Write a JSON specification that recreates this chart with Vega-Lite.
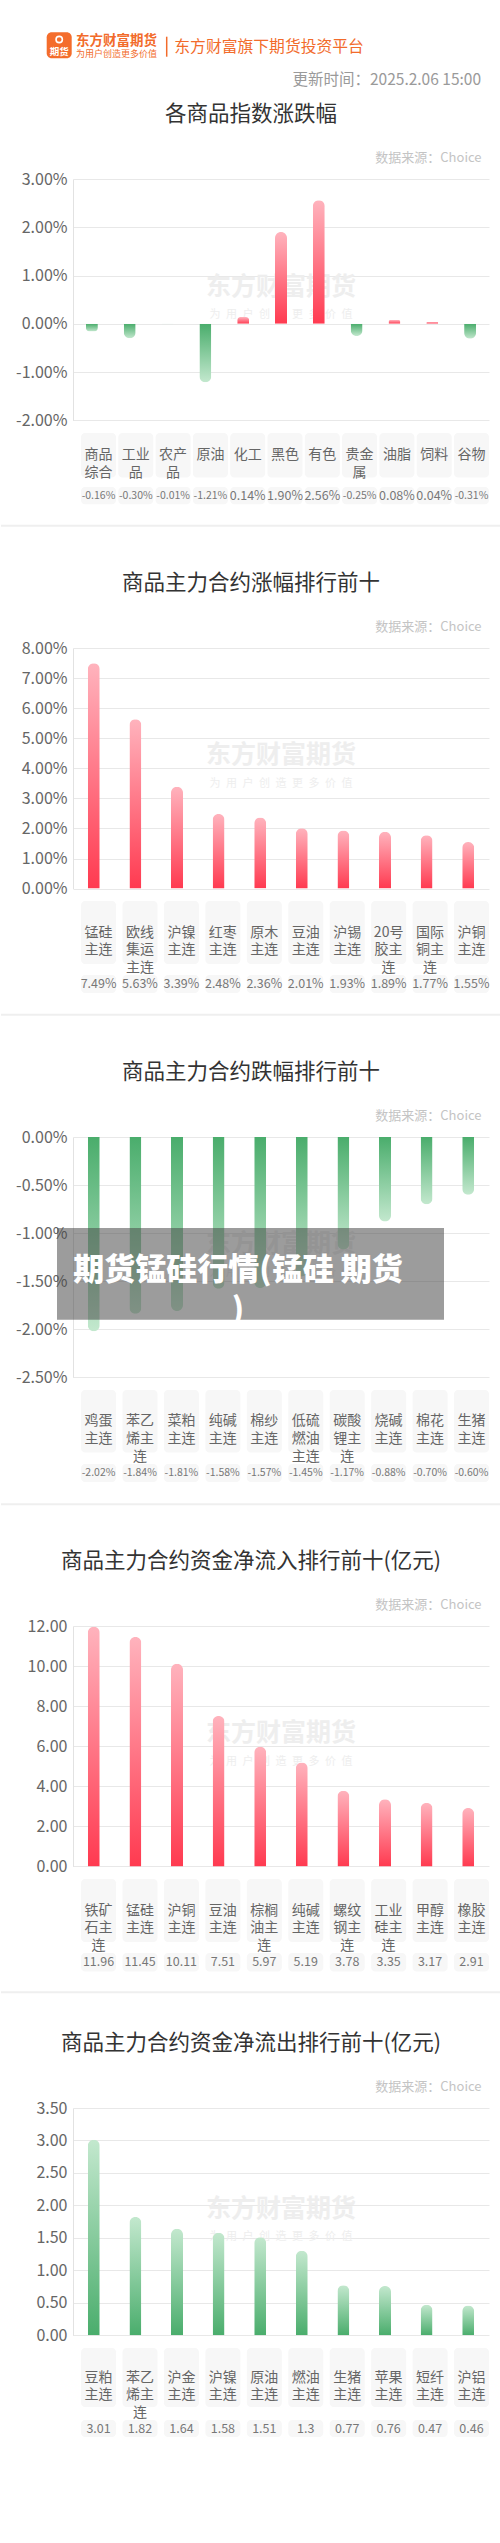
{
  "$schema": "https://vega.github.io/schema/vega-lite/v6.json",
  "background": "white",
  "padding": 0,
  "spacing": 0,
  "config": {
    "font": "Noto Sans CJK SC",
    "view": {"stroke": null},
    "locale": {"number": {"decimal": ".", "thousands": ",", "grouping": [3], "currency": ["", ""], "minus": "-"}},
    "axisY": {"labelFontSize": 16, "labelColor": "#666666", "labelPadding": 6, "ticks": false, "domainColor": "#e2e2e2", "gridColor": "#e8e8e8", "minExtent": 72, "titleAngle": 0, "titleX": 408, "titleY": -22, "titleAlign": "right", "titleBaseline": "middle", "titleColor": "#c4c4c4", "titleFontSize": 13, "titleFontWeight": "normal"},
    "axisX": {"labels": false, "ticks": false, "domain": false, "grid": false}
  },
  "datasets": {
    "d1": [
      {"name": "商品综合", "lab": "商品\n综合", "v": -0.0016},
      {"name": "工业品", "lab": "工业\n品", "v": -0.003},
      {"name": "农产品", "lab": "农产\n品", "v": -0.0001},
      {"name": "原油", "lab": "原油", "v": -0.0121},
      {"name": "化工", "lab": "化工", "v": 0.0014},
      {"name": "黑色", "lab": "黑色", "v": 0.019},
      {"name": "有色", "lab": "有色", "v": 0.0256},
      {"name": "贵金属", "lab": "贵金\n属", "v": -0.0025},
      {"name": "油脂", "lab": "油脂", "v": 0.0008},
      {"name": "饲料", "lab": "饲料", "v": 0.0004},
      {"name": "谷物", "lab": "谷物", "v": -0.0031}
    ],
    "d2": [
      {"name": "锰硅主连", "lab": "锰硅\n主连", "v": 0.0749},
      {"name": "欧线集运主连", "lab": "欧线\n集运\n主连", "v": 0.0563},
      {"name": "沪镍主连", "lab": "沪镍\n主连", "v": 0.0339},
      {"name": "红枣主连", "lab": "红枣\n主连", "v": 0.0248},
      {"name": "原木主连", "lab": "原木\n主连", "v": 0.0236},
      {"name": "豆油主连", "lab": "豆油\n主连", "v": 0.0201},
      {"name": "沪锡主连", "lab": "沪锡\n主连", "v": 0.0193},
      {"name": "20号胶主连", "lab": "20号\n胶主\n连", "v": 0.0189},
      {"name": "国际铜主连", "lab": "国际\n铜主\n连", "v": 0.0177},
      {"name": "沪铜主连", "lab": "沪铜\n主连", "v": 0.0155}
    ],
    "d3": [
      {"name": "鸡蛋主连", "lab": "鸡蛋\n主连", "v": -0.0202},
      {"name": "苯乙烯主连", "lab": "苯乙\n烯主\n连", "v": -0.0184},
      {"name": "菜粕主连", "lab": "菜粕\n主连", "v": -0.0181},
      {"name": "纯碱主连", "lab": "纯碱\n主连", "v": -0.0158},
      {"name": "棉纱主连", "lab": "棉纱\n主连", "v": -0.0157},
      {"name": "低硫燃油主连", "lab": "低硫\n燃油\n主连", "v": -0.0145},
      {"name": "碳酸锂主连", "lab": "碳酸\n锂主\n连", "v": -0.0117},
      {"name": "烧碱主连", "lab": "烧碱\n主连", "v": -0.0088},
      {"name": "棉花主连", "lab": "棉花\n主连", "v": -0.007},
      {"name": "生猪主连", "lab": "生猪\n主连", "v": -0.006}
    ],
    "d4": [
      {"name": "铁矿石主连", "lab": "铁矿\n石主\n连", "v": 11.96},
      {"name": "锰硅主连", "lab": "锰硅\n主连", "v": 11.45},
      {"name": "沪铜主连", "lab": "沪铜\n主连", "v": 10.11},
      {"name": "豆油主连", "lab": "豆油\n主连", "v": 7.51},
      {"name": "棕榈油主连", "lab": "棕榈\n油主\n连", "v": 5.97},
      {"name": "纯碱主连", "lab": "纯碱\n主连", "v": 5.19},
      {"name": "螺纹钢主连", "lab": "螺纹\n钢主\n连", "v": 3.78},
      {"name": "工业硅主连", "lab": "工业\n硅主\n连", "v": 3.35},
      {"name": "甲醇主连", "lab": "甲醇\n主连", "v": 3.17},
      {"name": "橡胶主连", "lab": "橡胶\n主连", "v": 2.91}
    ],
    "d5": [
      {"name": "豆粕主连", "lab": "豆粕\n主连", "v": 3.01},
      {"name": "苯乙烯主连", "lab": "苯乙\n烯主\n连", "v": 1.82},
      {"name": "沪金主连", "lab": "沪金\n主连", "v": 1.64},
      {"name": "沪镍主连", "lab": "沪镍\n主连", "v": 1.58},
      {"name": "原油主连", "lab": "原油\n主连", "v": 1.51},
      {"name": "燃油主连", "lab": "燃油\n主连", "v": 1.3},
      {"name": "生猪主连", "lab": "生猪\n主连", "v": 0.77},
      {"name": "苹果主连", "lab": "苹果\n主连", "v": 0.76},
      {"name": "短纤主连", "lab": "短纤\n主连", "v": 0.47},
      {"name": "沪铝主连", "lab": "沪铝\n主连", "v": 0.46}
    ]
  },
  "vconcat": [
    {
      "width": 416, "height": 103.8,
      "data": {"values": [{}]},
      "layer": [
        {"mark": {"type": "rect", "color": "#f46d2c", "cornerRadius": 5}, "encoding": {"x": {"value": -26.3}, "x2": {"value": -1.3}, "y": {"value": 32.3}, "y2": {"value": 58.3}}},
        {"mark": {"type": "point", "shape": "circle", "filled": false, "color": "white", "strokeWidth": 1.6, "size": 40, "opacity": 1}, "encoding": {"x": {"value": -13.8}, "y": {"value": 39.5}}},
        {"mark": {"type": "text", "text": "期货", "fontSize": 9.5, "fontWeight": "bold", "color": "white", "align": "center", "baseline": "middle"}, "encoding": {"x": {"value": -13.8}, "y": {"value": 51.5}}},
        {"mark": {"type": "text", "text": "东方财富期货", "fontSize": 13.5, "fontWeight": "bold", "color": "#f26b2b", "align": "left", "baseline": "middle"}, "encoding": {"x": {"value": 3}, "y": {"value": 41}}},
        {"mark": {"type": "text", "text": "为用户创造更多价值", "fontSize": 9, "color": "#f26b2b", "align": "left", "baseline": "middle"}, "encoding": {"x": {"value": 3}, "y": {"value": 53.5}}},
        {"mark": {"type": "rule", "color": "#f26b2b", "strokeWidth": 1.5}, "encoding": {"x": {"value": 93.7}, "y": {"value": 36.7}, "y2": {"value": 56.7}}},
        {"mark": {"type": "text", "text": "东方财富旗下期货投资平台", "fontSize": 15.8, "color": "#f26b2b", "align": "left", "baseline": "middle"}, "encoding": {"x": {"value": 101.3}, "y": {"value": 46.5}}},
        {"mark": {"type": "text", "text": "更新时间：2025.2.06 15:00", "fontSize": 15.5, "color": "#9a9a9a", "align": "right", "baseline": "middle"}, "encoding": {"x": {"value": 408}, "y": {"value": 80}}}
      ]
    },
    {
      "width": 416, "height": 241.4,
      "title": {"text": "各商品指数涨跌幅", "fontSize": 21.5, "fontWeight": "normal", "color": "#333333", "anchor": "middle", "frame": "group", "dx": -30, "offset": 25.5},
      "layer": [
        {"data": {"values": [{}]}, "mark": {"type": "text", "text": "东方财富期货", "fontSize": 25, "fontWeight": "bold", "color": "#eeeeee", "align": "center", "baseline": "middle"}, "encoding": {"x": {"value": 208}, "y": {"value": 107.7}}},
        {"data": {"values": [{}]}, "mark": {"type": "text", "text": "为\u2002用\u2002户\u2002创\u2002造\u2002更\u2002多\u2002价\u2002值", "fontSize": 11, "color": "#eeeeee", "align": "center", "baseline": "middle"}, "encoding": {"x": {"value": 208}, "y": {"value": 136}}},
        {"data": {"name": "d1"}, "transform": [{"filter": "datum.v >= 0"}],
          "mark": {"type": "bar", "width": 12, "cornerRadiusTopLeft": 6, "cornerRadiusTopRight": 6, "color": {"gradient": "linear", "x1": 0, "y1": 0, "x2": 0, "y2": 1, "stops": [{"offset": 0, "color": "#ffb3bd"}, {"offset": 1, "color": "#ff3a50"}]}},
          "encoding": {
            "x": {"field": "name", "type": "nominal", "sort": null, "scale": {"domain": ["商品综合", "工业品", "农产品", "原油", "化工", "黑色", "有色", "贵金属", "油脂", "饲料", "谷物"], "paddingInner": 0, "paddingOuter": 0}, "axis": {"orient": "bottom", "title": null, "minExtent": 12, "maxExtent": 12}},
            "y": {"field": "v", "type": "quantitative", "scale": {"domain": [-0.02, 0.03], "nice": false}, "axis": {"values": [-0.02, -0.01, 0, 0.01, 0.02, 0.03], "format": ".2%", "title": "数据来源：Choice"}}
          }},
        {"data": {"name": "d1"}, "transform": [{"filter": "datum.v < 0"}],
          "mark": {"type": "bar", "width": 12, "cornerRadiusBottomLeft": 6, "cornerRadiusBottomRight": 6, "color": {"gradient": "linear", "x1": 0, "y1": 0, "x2": 0, "y2": 1, "stops": [{"offset": 0, "color": "#4aad6c"}, {"offset": 1, "color": "#c3e8ce"}]}},
          "encoding": {
            "x": {"field": "name", "type": "nominal", "sort": null, "scale": {"domain": ["商品综合", "工业品", "农产品", "原油", "化工", "黑色", "有色", "贵金属", "油脂", "饲料", "谷物"], "paddingInner": 0, "paddingOuter": 0}, "axis": {"orient": "bottom", "title": null, "minExtent": 12, "maxExtent": 12}},
            "y": {"field": "v", "type": "quantitative", "scale": {"domain": [-0.02, 0.03], "nice": false}, "axis": {"values": [-0.02, -0.01, 0, 0.01, 0.02, 0.03], "format": ".2%", "title": "数据来源：Choice"}}
          }}
      ]
    },
    {
      "width": 416, "height": 44.5,
      "data": {"name": "d1"},
      "layer": [
        {"mark": {"type": "rect", "color": "#f7f7f7", "cornerRadius": 4}, "encoding": {"x": {"field": "name", "type": "nominal", "sort": null, "scale": {"paddingInner": 0.0617, "paddingOuter": 0.1073, "align": 1}, "axis": {"orient": "bottom", "title": null, "minExtent": 9, "maxExtent": 9}}}},
        {"mark": {"type": "text", "color": "#666666", "fontSize": 14, "lineHeight": 17.7, "lineBreak": "\n", "align": "center", "baseline": "middle"}, "encoding": {"x": {"field": "name", "type": "nominal", "sort": null, "scale": {"paddingInner": 0.0617, "paddingOuter": 0.1073, "align": 1}, "axis": {"orient": "bottom", "title": null, "minExtent": 9, "maxExtent": 9}}, "text": {"field": "lab"}}}
      ]
    },
    {
      "width": 416, "height": 17.3,
      "layer": [
        {"data": {"name": "d1"}, "mark": {"type": "rect", "color": "#f7f7f7", "cornerRadius": 4}, "encoding": {"x": {"field": "name", "type": "nominal", "sort": null, "scale": {"paddingInner": 0.0617, "paddingOuter": 0.1073, "align": 1}, "axis": {"orient": "bottom", "title": null, "minExtent": 68.7, "maxExtent": 68.7}}}},
        {"data": {"name": "d1"}, "mark": {"type": "text", "color": "#777777", "align": "center", "baseline": "middle"}, "encoding": {"x": {"field": "name", "type": "nominal", "sort": null, "scale": {"paddingInner": 0.0617, "paddingOuter": 0.1073, "align": 1}, "axis": {"orient": "bottom", "title": null, "minExtent": 68.7, "maxExtent": 68.7}}, "text": {"field": "v", "type": "quantitative", "format": ".2%"}, "size": {"condition": {"test": "datum.v < 0", "value": 10.5}, "value": 12.5}}},
        {"data": {"values": [{}]}, "mark": {"type": "rule", "color": "#efefef", "strokeWidth": 2}, "encoding": {"x": {"value": -72}, "x2": {"value": 428}, "y": {"value": 38.8}}}
      ]
    },
    {
      "width": 416, "height": 240.6,
      "title": {"text": "商品主力合约涨幅排行前十", "fontSize": 21.5, "fontWeight": "normal", "color": "#333333", "anchor": "middle", "frame": "group", "dx": -30, "offset": 25.5},
      "layer": [
        {"data": {"values": [{}]}, "mark": {"type": "text", "text": "东方财富期货", "fontSize": 25, "fontWeight": "bold", "color": "#eeeeee", "align": "center", "baseline": "middle"}, "encoding": {"x": {"value": 208}, "y": {"value": 107.3}}},
        {"data": {"values": [{}]}, "mark": {"type": "text", "text": "为\u2002用\u2002户\u2002创\u2002造\u2002更\u2002多\u2002价\u2002值", "fontSize": 11, "color": "#eeeeee", "align": "center", "baseline": "middle"}, "encoding": {"x": {"value": 208}, "y": {"value": 135.6}}},
        {"data": {"name": "d2"},
          "mark": {"type": "bar", "width": 12, "cornerRadiusTopLeft": 6, "cornerRadiusTopRight": 6, "color": {"gradient": "linear", "x1": 0, "y1": 0, "x2": 0, "y2": 1, "stops": [{"offset": 0, "color": "#ffb3bd"}, {"offset": 1, "color": "#ff3a50"}]}},
          "encoding": {
            "x": {"field": "name", "type": "nominal", "sort": null, "scale": {"paddingInner": 0, "paddingOuter": 0}, "axis": {"orient": "bottom", "title": null, "minExtent": 12, "maxExtent": 12}},
            "y": {"field": "v", "type": "quantitative", "scale": {"domain": [0, 0.08], "nice": false}, "axis": {"values": [0, 0.01, 0.02, 0.03, 0.04, 0.05, 0.06, 0.07, 0.08], "format": ".2%", "title": "数据来源：Choice"}}
          }}
      ]
    },
    {
      "width": 416, "height": 63,
      "data": {"name": "d2"},
      "layer": [
        {"mark": {"type": "rect", "color": "#f7f7f7", "cornerRadius": 4}, "encoding": {"x": {"field": "name", "type": "nominal", "sort": null, "scale": {"paddingInner": 0.1555, "paddingOuter": 0.0971, "align": 1}, "axis": {"orient": "bottom", "title": null, "minExtent": 9, "maxExtent": 9}}}},
        {"mark": {"type": "text", "color": "#666666", "fontSize": 14, "lineHeight": 17.7, "lineBreak": "\n", "align": "center", "baseline": "middle"}, "encoding": {"x": {"field": "name", "type": "nominal", "sort": null, "scale": {"paddingInner": 0.1555, "paddingOuter": 0.0971, "align": 1}, "axis": {"orient": "bottom", "title": null, "minExtent": 9, "maxExtent": 9}}, "text": {"field": "lab"}}}
      ]
    },
    {
      "width": 416, "height": 18,
      "layer": [
        {"data": {"name": "d2"}, "mark": {"type": "rect", "color": "#f7f7f7", "cornerRadius": 4}, "encoding": {"x": {"field": "name", "type": "nominal", "sort": null, "scale": {"paddingInner": 0.1555, "paddingOuter": 0.0971, "align": 1}, "axis": {"orient": "bottom", "title": null, "minExtent": 68.2, "maxExtent": 68.2}}}},
        {"data": {"name": "d2"}, "mark": {"type": "text", "color": "#777777", "align": "center", "baseline": "middle"}, "encoding": {"x": {"field": "name", "type": "nominal", "sort": null, "scale": {"paddingInner": 0.1555, "paddingOuter": 0.0971, "align": 1}, "axis": {"orient": "bottom", "title": null, "minExtent": 68.2, "maxExtent": 68.2}}, "text": {"field": "v", "type": "quantitative", "format": ".2%"}, "size": {"condition": {"test": "datum.v < 0", "value": 10.5}, "value": 12.5}}},
        {"data": {"values": [{}]}, "mark": {"type": "rule", "color": "#efefef", "strokeWidth": 2}, "encoding": {"x": {"value": -72}, "x2": {"value": 428}, "y": {"value": 39.7}}}
      ]
    },
    {
      "width": 416, "height": 240.3,
      "title": {"text": "商品主力合约跌幅排行前十", "fontSize": 21.5, "fontWeight": "normal", "color": "#333333", "anchor": "middle", "frame": "group", "dx": -30, "offset": 25.5},
      "layer": [
        {"data": {"values": [{}]}, "mark": {"type": "text", "text": "东方财富期货", "fontSize": 25, "fontWeight": "bold", "color": "#eeeeee", "align": "center", "baseline": "middle"}, "encoding": {"x": {"value": 208}, "y": {"value": 107.2}}},
        {"data": {"values": [{}]}, "mark": {"type": "text", "text": "为\u2002用\u2002户\u2002创\u2002造\u2002更\u2002多\u2002价\u2002值", "fontSize": 11, "color": "#eeeeee", "align": "center", "baseline": "middle"}, "encoding": {"x": {"value": 208}, "y": {"value": 135.5}}},
        {"data": {"name": "d3"},
          "mark": {"type": "bar", "width": 12, "cornerRadiusBottomLeft": 6, "cornerRadiusBottomRight": 6, "color": {"gradient": "linear", "x1": 0, "y1": 0, "x2": 0, "y2": 1, "stops": [{"offset": 0, "color": "#4aad6c"}, {"offset": 1, "color": "#c3e8ce"}]}},
          "encoding": {
            "x": {"field": "name", "type": "nominal", "sort": null, "scale": {"paddingInner": 0, "paddingOuter": 0}, "axis": {"orient": "bottom", "title": null, "minExtent": 12, "maxExtent": 12}},
            "y": {"field": "v", "type": "quantitative", "scale": {"domain": [-0.025, 0], "nice": false}, "axis": {"values": [-0.025, -0.02, -0.015, -0.01, -0.005, 0], "format": ".2%", "title": "数据来源：Choice"}}
          }},
        {"data": {"values": [{}]}, "mark": {"type": "rect", "color": "#444444", "opacity": 0.53}, "encoding": {"x": {"value": -16}, "x2": {"value": 371}, "y": {"value": 91}, "y2": {"value": 182.7}}},
        {"data": {"values": [{}]}, "mark": {"type": "text", "text": ["期货锰硅行情(锰硅 期货", ")"], "fontSize": 31, "fontWeight": 900, "color": "white", "align": "center", "baseline": "middle", "lineHeight": 40}, "encoding": {"x": {"value": 165}, "y": {"value": 134}}}
      ]
    },
    {
      "width": 416, "height": 62.5,
      "data": {"name": "d3"},
      "layer": [
        {"mark": {"type": "rect", "color": "#f7f7f7", "cornerRadius": 4}, "encoding": {"x": {"field": "name", "type": "nominal", "sort": null, "scale": {"paddingInner": 0.1555, "paddingOuter": 0.0971, "align": 1}, "axis": {"orient": "bottom", "title": null, "minExtent": 9, "maxExtent": 9}}}},
        {"mark": {"type": "text", "color": "#666666", "fontSize": 14, "lineHeight": 17.7, "lineBreak": "\n", "align": "center", "baseline": "middle"}, "encoding": {"x": {"field": "name", "type": "nominal", "sort": null, "scale": {"paddingInner": 0.1555, "paddingOuter": 0.0971, "align": 1}, "axis": {"orient": "bottom", "title": null, "minExtent": 9, "maxExtent": 9}}, "text": {"field": "lab"}}}
      ]
    },
    {
      "width": 416, "height": 18,
      "layer": [
        {"data": {"name": "d3"}, "mark": {"type": "rect", "color": "#f7f7f7", "cornerRadius": 4}, "encoding": {"x": {"field": "name", "type": "nominal", "sort": null, "scale": {"paddingInner": 0.1555, "paddingOuter": 0.0971, "align": 1}, "axis": {"orient": "bottom", "title": null, "minExtent": 69, "maxExtent": 69}}}},
        {"data": {"name": "d3"}, "mark": {"type": "text", "color": "#777777", "align": "center", "baseline": "middle"}, "encoding": {"x": {"field": "name", "type": "nominal", "sort": null, "scale": {"paddingInner": 0.1555, "paddingOuter": 0.0971, "align": 1}, "axis": {"orient": "bottom", "title": null, "minExtent": 69, "maxExtent": 69}}, "text": {"field": "v", "type": "quantitative", "format": ".2%"}, "size": {"condition": {"test": "datum.v < 0", "value": 10.5}, "value": 12.5}}},
        {"data": {"values": [{}]}, "mark": {"type": "rule", "color": "#efefef", "strokeWidth": 2}, "encoding": {"x": {"value": -72}, "x2": {"value": 428}, "y": {"value": 40.2}}}
      ]
    },
    {
      "width": 416, "height": 240.4,
      "title": {"text": "商品主力合约资金净流入排行前十(亿元)", "fontSize": 21.5, "fontWeight": "normal", "color": "#333333", "anchor": "middle", "frame": "group", "dx": -30, "offset": 25.5},
      "layer": [
        {"data": {"values": [{}]}, "mark": {"type": "text", "text": "东方财富期货", "fontSize": 25, "fontWeight": "bold", "color": "#eeeeee", "align": "center", "baseline": "middle"}, "encoding": {"x": {"value": 208}, "y": {"value": 107.2}}},
        {"data": {"values": [{}]}, "mark": {"type": "text", "text": "为\u2002用\u2002户\u2002创\u2002造\u2002更\u2002多\u2002价\u2002值", "fontSize": 11, "color": "#eeeeee", "align": "center", "baseline": "middle"}, "encoding": {"x": {"value": 208}, "y": {"value": 135.5}}},
        {"data": {"name": "d4"},
          "mark": {"type": "bar", "width": 12, "cornerRadiusTopLeft": 6, "cornerRadiusTopRight": 6, "color": {"gradient": "linear", "x1": 0, "y1": 0, "x2": 0, "y2": 1, "stops": [{"offset": 0, "color": "#ffb3bd"}, {"offset": 1, "color": "#ff3a50"}]}},
          "encoding": {
            "x": {"field": "name", "type": "nominal", "sort": null, "scale": {"paddingInner": 0, "paddingOuter": 0}, "axis": {"orient": "bottom", "title": null, "minExtent": 12, "maxExtent": 12}},
            "y": {"field": "v", "type": "quantitative", "scale": {"domain": [0, 12], "nice": false}, "axis": {"values": [0, 2, 4, 6, 8, 10, 12], "format": ".2f", "title": "数据来源：Choice"}}
          }}
      ]
    },
    {
      "width": 416, "height": 63,
      "data": {"name": "d4"},
      "layer": [
        {"mark": {"type": "rect", "color": "#f7f7f7", "cornerRadius": 4}, "encoding": {"x": {"field": "name", "type": "nominal", "sort": null, "scale": {"paddingInner": 0.1555, "paddingOuter": 0.0971, "align": 1}, "axis": {"orient": "bottom", "title": null, "minExtent": 9, "maxExtent": 9}}}},
        {"mark": {"type": "text", "color": "#666666", "fontSize": 14, "lineHeight": 17.7, "lineBreak": "\n", "align": "center", "baseline": "middle"}, "encoding": {"x": {"field": "name", "type": "nominal", "sort": null, "scale": {"paddingInner": 0.1555, "paddingOuter": 0.0971, "align": 1}, "axis": {"orient": "bottom", "title": null, "minExtent": 9, "maxExtent": 9}}, "text": {"field": "lab"}}}
      ]
    },
    {
      "width": 416, "height": 18.5,
      "layer": [
        {"data": {"name": "d4"}, "mark": {"type": "rect", "color": "#f7f7f7", "cornerRadius": 4}, "encoding": {"x": {"field": "name", "type": "nominal", "sort": null, "scale": {"paddingInner": 0.1555, "paddingOuter": 0.0971, "align": 1}, "axis": {"orient": "bottom", "title": null, "minExtent": 61.3, "maxExtent": 61.3}}}},
        {"data": {"name": "d4"}, "mark": {"type": "text", "color": "#777777", "align": "center", "baseline": "middle", "fontSize": 12.5}, "encoding": {"x": {"field": "name", "type": "nominal", "sort": null, "scale": {"paddingInner": 0.1555, "paddingOuter": 0.0971, "align": 1}, "axis": {"orient": "bottom", "title": null, "minExtent": 61.3, "maxExtent": 61.3}}, "text": {"field": "v", "type": "nominal"}}},
        {"data": {"values": [{}]}, "mark": {"type": "rule", "color": "#efefef", "strokeWidth": 2}, "encoding": {"x": {"value": -72}, "x2": {"value": 428}, "y": {"value": 39.3}}}
      ]
    },
    {
      "width": 416, "height": 227.3,
      "title": {"text": "商品主力合约资金净流出排行前十(亿元)", "fontSize": 21.5, "fontWeight": "normal", "color": "#333333", "anchor": "middle", "frame": "group", "dx": -30, "offset": 25.5},
      "layer": [
        {"data": {"values": [{}]}, "mark": {"type": "text", "text": "东方财富期货", "fontSize": 25, "fontWeight": "bold", "color": "#eeeeee", "align": "center", "baseline": "middle"}, "encoding": {"x": {"value": 208}, "y": {"value": 100.7}}},
        {"data": {"values": [{}]}, "mark": {"type": "text", "text": "为\u2002用\u2002户\u2002创\u2002造\u2002更\u2002多\u2002价\u2002值", "fontSize": 11, "color": "#eeeeee", "align": "center", "baseline": "middle"}, "encoding": {"x": {"value": 208}, "y": {"value": 129}}},
        {"data": {"name": "d5"},
          "mark": {"type": "bar", "width": 12, "cornerRadiusTopLeft": 6, "cornerRadiusTopRight": 6, "color": {"gradient": "linear", "x1": 0, "y1": 0, "x2": 0, "y2": 1, "stops": [{"offset": 0, "color": "#c3e8ce"}, {"offset": 1, "color": "#4aad6c"}]}},
          "encoding": {
            "x": {"field": "name", "type": "nominal", "sort": null, "scale": {"paddingInner": 0, "paddingOuter": 0}, "axis": {"orient": "bottom", "title": null, "minExtent": 12, "maxExtent": 12}},
            "y": {"field": "v", "type": "quantitative", "scale": {"domain": [0, 3.5], "nice": false}, "axis": {"values": [0, 0.5, 1, 1.5, 2, 2.5, 3, 3.5], "format": ".2f", "title": "数据来源：Choice"}}
          }}
      ]
    },
    {
      "width": 416, "height": 59,
      "data": {"name": "d5"},
      "layer": [
        {"mark": {"type": "rect", "color": "#f7f7f7", "cornerRadius": 4}, "encoding": {"x": {"field": "name", "type": "nominal", "sort": null, "scale": {"paddingInner": 0.1555, "paddingOuter": 0.0971, "align": 1}, "axis": {"orient": "bottom", "title": null, "minExtent": 9, "maxExtent": 9}}}},
        {"mark": {"type": "text", "color": "#666666", "fontSize": 14, "lineHeight": 17.7, "lineBreak": "\n", "align": "center", "baseline": "middle"}, "encoding": {"x": {"field": "name", "type": "nominal", "sort": null, "scale": {"paddingInner": 0.1555, "paddingOuter": 0.0971, "align": 1}, "axis": {"orient": "bottom", "title": null, "minExtent": 9, "maxExtent": 9}}, "text": {"field": "lab"}}}
      ]
    },
    {
      "width": 416, "height": 17,
      "data": {"name": "d5"},
      "layer": [
        {"mark": {"type": "rect", "color": "#f7f7f7", "cornerRadius": 4}, "encoding": {"x": {"field": "name", "type": "nominal", "sort": null, "scale": {"paddingInner": 0.1555, "paddingOuter": 0.0971, "align": 1}, "axis": {"orient": "bottom", "title": null, "minExtent": 118.7, "maxExtent": 118.7}}}},
        {"mark": {"type": "text", "color": "#777777", "align": "center", "baseline": "middle", "fontSize": 12.5}, "encoding": {"x": {"field": "name", "type": "nominal", "sort": null, "scale": {"paddingInner": 0.1555, "paddingOuter": 0.0971, "align": 1}, "axis": {"orient": "bottom", "title": null, "minExtent": 118.7, "maxExtent": 118.7}}, "text": {"field": "v", "type": "nominal"}}}
      ]
    }
  ]
}
